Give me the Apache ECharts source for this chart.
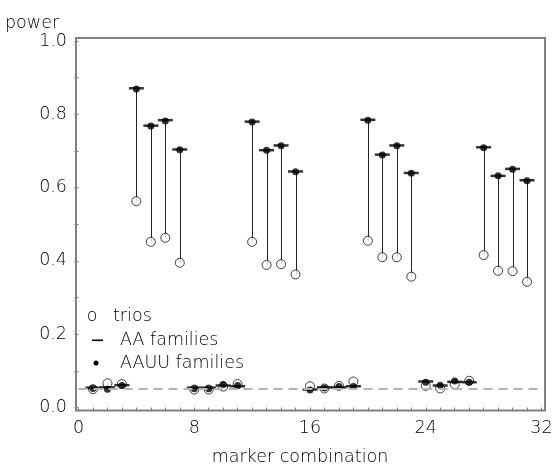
<!DOCTYPE html>
<html>
<head>
<meta charset="utf-8">
<script src="https://cdn.jsdelivr.net/npm/echarts@6/dist/echarts.min.js"></script>
<style>
  html, body { margin: 0; padding: 0; background: #fff; }
  #chart { width: 556px; height: 466px; }
</style>
</head>
<body>
<div id="chart"></div>
<script>
// Marker combinations (x) and power estimates for each design
const markerCombination = [1, 2, 3, 4, 5, 6, 7, 8, 9, 10, 11, 12, 13, 14, 15,
  16, 17, 18, 19, 20, 21, 22, 23, 24, 25, 26, 27, 28, 29, 30, 31];
const triosPower = [0.050, 0.066, 0.064, 0.563, 0.452, 0.463, 0.395,
  0.049, 0.049, 0.057, 0.064, 0.452, 0.389, 0.391, 0.363,
  0.058, 0.052, 0.059, 0.071, 0.455, 0.410, 0.410, 0.357,
  0.059, 0.052, 0.063, 0.073, 0.416, 0.373, 0.372, 0.343];
const aaPower = [0.054, 0.055, 0.061, 0.871, 0.769, 0.784, 0.704,
  0.054, 0.054, 0.060, 0.058, 0.780, 0.702, 0.715, 0.644,
  0.049, 0.055, 0.055, 0.058, 0.785, 0.690, 0.715, 0.640,
  0.071, 0.060, 0.070, 0.069, 0.710, 0.632, 0.651, 0.620];
const aauuPower = [0.052, 0.050, 0.060, 0.869, 0.768, 0.782, 0.703,
  0.051, 0.051, 0.063, 0.060, 0.779, 0.702, 0.714, 0.643,
  0.048, 0.053, 0.057, 0.057, 0.784, 0.689, 0.714, 0.639,
  0.069, 0.061, 0.072, 0.069, 0.709, 0.632, 0.650, 0.619];
const nominalLevel = 0.05;
const xTickLabels = ['0', '8', '16', '24', '32'];
const yTickLabels = ['0.0', '0.2', '0.4', '0.6', '0.8', '1.0'];
const legendLabels = ['trios', 'AA families', 'AAUU families'];

const FONT = 'DejaVu Sans';
const FW = 200;
const FS = 17.5;
const TEXT = '#000';
const FRAME = '#808080';
const font = size => FW + ' ' + size + 'px "' + FONT + '"';

const grid = { left: 78.5, right: 14.5, top: 41, bottom: 58.5 };
const W = 556, H = 466;

const chart = echarts.init(document.getElementById('chart'), null, { renderer: 'canvas' });

const pairs = (ys) => markerCombination.map((x, i) => [x, ys[i]]);

chart.setOption({
  animation: false,
  backgroundColor: '#fff',
  grid: Object.assign({ containLabel: false, outerBoundsMode: 'none' }, grid),
  xAxis: {
    type: 'value', min: 0, max: 32, interval: 1, offset: 3,
    axisLine: { show: false },
    axisTick: { show: true, length: 4, lineStyle: { color: FRAME, width: 1 } },
    splitLine: { show: false },
    axisLabel: {
      margin: 9, fontFamily: FONT, fontWeight: FW, fontSize: FS, color: TEXT,
      formatter: v => (v % 8 === 0 ? xTickLabels[v / 8] : '')
    },
    name: 'marker combination', nameLocation: 'middle', nameGap: 38,
    nameTextStyle: { fontFamily: FONT, fontWeight: FW, fontSize: FS, color: TEXT, padding: [0, 20, 0, 0] }
  },
  yAxis: {
    type: 'value', min: 0, max: 1, interval: 0.1, offset: 2.5,
    axisLine: { show: false },
    axisTick: { show: true, length: 4, lineStyle: { color: FRAME, width: 1 } },
    splitLine: { show: false },
    axisLabel: {
      margin: 9, fontFamily: FONT, fontWeight: FW, fontSize: FS, color: TEXT,
      formatter: v => {
        const k = Math.round(v * 10);
        return k % 2 === 0 ? yTickLabels[k / 2] : '';
      }
    }
  },
  series: [
    {
      // vertical connectors from trios to AAUU power
      type: 'custom',
      data: markerCombination.map((x, i) => [x, triosPower[i], aauuPower[i]]),
      renderItem: (params, api) => {
        const a = api.coord([api.value(0), api.value(1)]);
        const b = api.coord([api.value(0), api.value(2)]);
        return {
          type: 'line',
          shape: { x1: Math.round(a[0]) + 0.5, y1: a[1], x2: Math.round(b[0]) + 0.5, y2: b[1] },
          style: { stroke: '#222', lineWidth: 1 }
        };
      },
      z: 1,
      markLine: {
        silent: true, symbol: 'none', label: { show: false },
        lineStyle: { color: '#b4b4b4', type: [9, 6], width: 2 },
        data: [{ yAxis: nominalLevel }]
      }
    },
    {
      name: legendLabels[0], type: 'scatter', data: pairs(triosPower),
      symbol: 'circle', symbolSize: 9,
      itemStyle: { color: '#fff', borderColor: '#111', borderWidth: 1 }, z: 2
    },
    {
      name: legendLabels[1], type: 'scatter', data: pairs(aaPower),
      symbol: 'rect', symbolSize: [15, 2.5],
      itemStyle: { color: '#000' }, z: 3
    },
    {
      name: legendLabels[2], type: 'scatter', data: pairs(aauuPower),
      symbol: 'circle', symbolSize: 7,
      itemStyle: { color: '#000' }, z: 4
    }
  ],
  graphic: [
    {
      // plot frame
      type: 'rect', silent: true, z: 10,
      shape: { x: grid.left - 2.5, y: grid.top - 3, width: (W - grid.right) - (grid.left - 2.5) + 3.5, height: (H - grid.bottom) - grid.top + 6 },
      style: { fill: 'none', stroke: FRAME, lineWidth: 2 }
    },
    {
      type: 'text', left: 5, top: 14,
      style: { text: 'power', font: font(FS), fill: TEXT }
    },
    {
      type: 'text', x: 92, y: 316,
      style: { text: 'o', font: font(FS), fill: TEXT, textAlign: 'center', textVerticalAlign: 'middle' }
    },
    {
      type: 'text', x: 113, y: 316,
      style: { text: legendLabels[0], font: font(FS), fill: TEXT, textVerticalAlign: 'middle' }
    },
    {
      type: 'rect', shape: { x: 92, y: 339.5, width: 11, height: 1.6 },
      style: { fill: TEXT }
    },
    {
      type: 'text', x: 120, y: 340,
      style: { text: legendLabels[1], font: font(FS), fill: TEXT, textVerticalAlign: 'middle' }
    },
    {
      type: 'circle', shape: { cx: 96, cy: 363, r: 2.5 },
      style: { fill: TEXT }
    },
    {
      type: 'text', x: 120, y: 363,
      style: { text: legendLabels[2], font: font(FS), fill: TEXT, textVerticalAlign: 'middle' }
    }
  ]
});
</script>
</body>
</html>
